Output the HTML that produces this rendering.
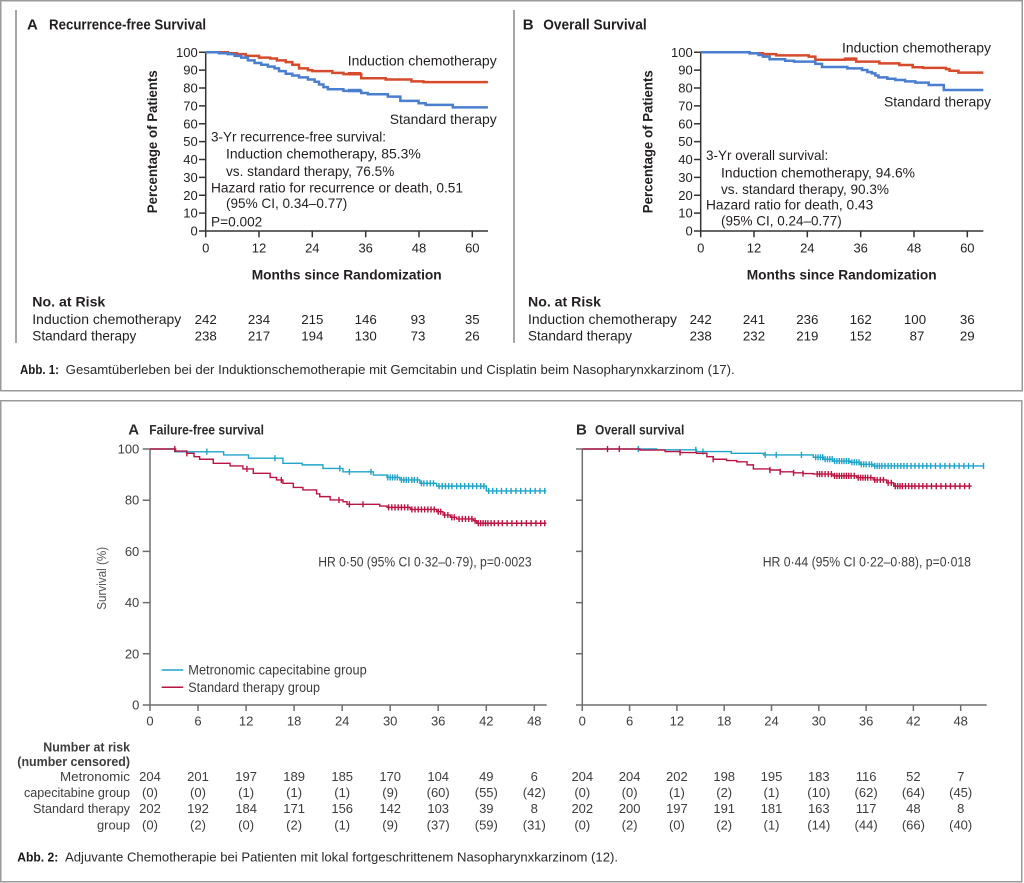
<!DOCTYPE html>
<html><head><meta charset="utf-8"><style>
html,body{margin:0;padding:0;background:#fff;}
svg{display:block;}
text{font-family:"Liberation Sans",sans-serif;}
</style></head><body>
<svg width="1024" height="883" viewBox="0 0 1024 883" xmlns="http://www.w3.org/2000/svg">
<rect x="0" y="0" width="1024" height="883" fill="#fff"/>
<!-- boxes -->
<rect x="0.75" y="0.75" width="1021.5" height="390" fill="none" stroke="#9a9a9a" stroke-width="1.5"/>
<rect x="0.75" y="400.75" width="1021" height="481" fill="none" stroke="#9a9a9a" stroke-width="1.5"/>
<line x1="16" y1="10" x2="16" y2="343" stroke="#8a8a8a" stroke-width="1.5"/>
<line x1="514" y1="10" x2="514" y2="343" stroke="#8a8a8a" stroke-width="1.5"/>

<!-- ===== TOP A ===== -->
<g fill="#231f20">
<text x="27" y="29.3" font-size="15" font-weight="bold">A</text>
<text x="49" y="29.5" font-size="15" font-weight="bold" textLength="157" lengthAdjust="spacingAndGlyphs">Recurrence-free Survival</text>
</g>
<g stroke="#333" stroke-width="1.5" fill="none">
<line x1="205.7" y1="52.3" x2="205.7" y2="231"/>
<line x1="205.7" y1="231" x2="488" y2="231"/>
<path d="M199,231H205.7M199,213.13H205.7M199,195.26H205.7M199,177.39H205.7M199,159.52H205.7M199,141.65H205.7M199,123.78H205.7M199,105.91H205.7M199,88.04H205.7M199,70.17H205.7M199,52.3H205.7"/>
<path d="M205.7,231V237.3M259,231V237.3M312.3,231V237.3M365.7,231V237.3M419,231V237.3M472.3,231V237.3"/>
</g>
<g font-size="13" fill="#231f20" text-anchor="end">
<text x="197.7" y="235.5">0</text><text x="197.7" y="217.6">10</text><text x="197.7" y="199.8">20</text><text x="197.7" y="181.9">30</text><text x="197.7" y="164">40</text><text x="197.7" y="146.2">50</text><text x="197.7" y="128.3">60</text><text x="197.7" y="110.4">70</text><text x="197.7" y="92.5">80</text><text x="197.7" y="74.7">90</text><text x="197.7" y="56.8">100</text>
</g>
<g font-size="13" fill="#231f20" text-anchor="middle">
<text x="205.7" y="252.5">0</text><text x="259" y="252.5">12</text><text x="312.3" y="252.5">24</text><text x="365.7" y="252.5">36</text><text x="419" y="252.5">48</text><text x="472.3" y="252.5">60</text>
</g>
<text x="346.7" y="279.5" font-size="14" font-weight="bold" text-anchor="middle" fill="#231f20" textLength="190" lengthAdjust="spacingAndGlyphs">Months since Randomization</text>
<text transform="translate(157,141.7) rotate(-90)" font-size="14" font-weight="bold" text-anchor="middle" fill="#231f20" textLength="143" lengthAdjust="spacingAndGlyphs">Percentage of Patients</text>
<g transform="translate(205.7,231) scale(4.444,-1.787)" fill="none">
<path vector-effect="non-scaling-stroke" stroke="#d64b2c" stroke-width="2.5" d="M0,100 H5 V99.5 H7 V99 H9 V98 H12 V97 H14.5 V96.5 H16 V95.5 H18 V94.5 H19.5 V93 H21 V91 H23 V90 H24 V89.5 H28.5 V88.5 H31 V87.8 H35 V85.5 H40.5 V84.8 H46.3 V83.7 H49 V83.3 H63.5"/>
<path vector-effect="non-scaling-stroke" stroke="#d64b2c" stroke-width="3.5" d="M32,88 H35"/>
<path vector-effect="non-scaling-stroke" stroke="#4a7fd0" stroke-width="2.5" d="M0,100 H3 V99.5 H5 V99 H6.5 V98 H8 V97 H9.5 V95.5 H11 V94 H12.5 V93 H14 V92 H15.5 V91 H16.5 V89.5 H18 V88 H19.5 V87 H21 V86 H23 V84.8 H24.5 V83.5 H25.5 V82 H26.5 V80.5 H27.5 V79.3 H31 V78.4 H35 V77.2 H36.5 V76.5 H41 V75.2 H43.8 V72.8 H47.9 V71.5 H49.5 V70.6 H55.6 V69.2 H63.5"/>
<path vector-effect="non-scaling-stroke" stroke="#4a7fd0" stroke-width="3.5" d="M32,78.6 H35"/>
</g>
<g font-size="14" fill="#231f20">
<text x="496.7" y="65.7" text-anchor="end" textLength="149" lengthAdjust="spacingAndGlyphs">Induction chemotherapy</text>
<text x="496.7" y="124" text-anchor="end" textLength="107" lengthAdjust="spacingAndGlyphs">Standard therapy</text>
<text x="211" y="141.7" textLength="175" lengthAdjust="spacingAndGlyphs">3-Yr recurrence-free survival:</text>
<text x="226" y="158.7" textLength="194.7" lengthAdjust="spacingAndGlyphs">Induction chemotherapy, 85.3%</text>
<text x="226" y="176" textLength="168.3" lengthAdjust="spacingAndGlyphs">vs. standard therapy, 76.5%</text>
<text x="211" y="192.7" textLength="252" lengthAdjust="spacingAndGlyphs">Hazard ratio for recurrence or death, 0.51</text>
<text x="226" y="207.8" textLength="121.3" lengthAdjust="spacingAndGlyphs">(95% CI, 0.34–0.77)</text>
<text x="211" y="226.7" textLength="51.3" lengthAdjust="spacingAndGlyphs">P=0.002</text>
</g>

<!-- ===== TOP B ===== -->
<g fill="#231f20">
<text x="522.7" y="29.3" font-size="15" font-weight="bold">B</text>
<text x="543.3" y="29.5" font-size="15" font-weight="bold" textLength="103.4" lengthAdjust="spacingAndGlyphs">Overall Survival</text>
</g>
<g stroke="#333" stroke-width="1.5" fill="none">
<line x1="700.7" y1="52.3" x2="700.7" y2="231"/>
<line x1="700.7" y1="231" x2="983.3" y2="231"/>
<path d="M694,231H700.7M694,213.13H700.7M694,195.26H700.7M694,177.39H700.7M694,159.52H700.7M694,141.65H700.7M694,123.78H700.7M694,105.91H700.7M694,88.04H700.7M694,70.17H700.7M694,52.3H700.7"/>
<path d="M700.7,231V237.3M754,231V237.3M807.3,231V237.3M860.7,231V237.3M914,231V237.3M967.3,231V237.3"/>
</g>
<g font-size="13" fill="#231f20" text-anchor="end">
<text x="692.7" y="235.5">0</text><text x="692.7" y="217.6">10</text><text x="692.7" y="199.8">20</text><text x="692.7" y="181.9">30</text><text x="692.7" y="164">40</text><text x="692.7" y="146.2">50</text><text x="692.7" y="128.3">60</text><text x="692.7" y="110.4">70</text><text x="692.7" y="92.5">80</text><text x="692.7" y="74.7">90</text><text x="692.7" y="56.8">100</text>
</g>
<g font-size="13" fill="#231f20" text-anchor="middle">
<text x="700.7" y="252.5">0</text><text x="754" y="252.5">12</text><text x="807.3" y="252.5">24</text><text x="860.7" y="252.5">36</text><text x="914" y="252.5">48</text><text x="967.3" y="252.5">60</text>
</g>
<text x="841.7" y="279.5" font-size="14" font-weight="bold" text-anchor="middle" fill="#231f20" textLength="190" lengthAdjust="spacingAndGlyphs">Months since Randomization</text>
<text transform="translate(652.3,141.7) rotate(-90)" font-size="14" font-weight="bold" text-anchor="middle" fill="#231f20" textLength="143" lengthAdjust="spacingAndGlyphs">Percentage of Patients</text>
<g transform="translate(700.7,231) scale(4.444,-1.787)" fill="none">
<path vector-effect="non-scaling-stroke" stroke="#d64b2c" stroke-width="2.5" d="M0,100 H11 V99.5 H14 V99 H17 V98.3 H24.3 V97.6 H25.8 V95.8 H32.5 V96.4 H35 V94.8 H40.2 V93.8 H44.7 V92.9 H47.7 V91.6 H50 V91.3 H55.2 V90.6 H56 V89.7 H58 V88.6 H63.6"/>
<path vector-effect="non-scaling-stroke" stroke="#d64b2c" stroke-width="3.5" d="M32.5,96.2 H35"/>
<path vector-effect="non-scaling-stroke" stroke="#4a7fd0" stroke-width="2.5" d="M0,100 H11 V99.4 H13 V98.5 H14 V97.6 H15.5 V96.1 H19 V95.3 H21 V94.8 H25.8 V93.5 H27.3 V91.8 H33 V91 H36.3 V90.1 H37.5 V89 H38.5 V88.2 H39.3 V87 H40 V86 H42 V85.2 H43.8 V84.5 H46 V83.7 H48.3 V83 H51.3 V81.7 H54.7 V78.9 H63.6"/>
</g>
<g font-size="14" fill="#231f20">
<text x="991" y="52.7" text-anchor="end" textLength="149" lengthAdjust="spacingAndGlyphs">Induction chemotherapy</text>
<text x="991" y="106.7" text-anchor="end" textLength="107" lengthAdjust="spacingAndGlyphs">Standard therapy</text>
<text x="706" y="160" textLength="122.3" lengthAdjust="spacingAndGlyphs">3-Yr overall survival:</text>
<text x="721" y="177.7" textLength="194" lengthAdjust="spacingAndGlyphs">Induction chemotherapy, 94.6%</text>
<text x="721" y="194" textLength="168" lengthAdjust="spacingAndGlyphs">vs. standard therapy, 90.3%</text>
<text x="706" y="209.7" textLength="167.3" lengthAdjust="spacingAndGlyphs">Hazard ratio for death, 0.43</text>
<text x="721" y="225.5" textLength="120.7" lengthAdjust="spacingAndGlyphs">(95% CI, 0.24–0.77)</text>
</g>

<!-- top risk tables -->
<g fill="#231f20" font-size="14">
<text x="32.3" y="306.7" font-weight="bold" textLength="73" lengthAdjust="spacingAndGlyphs">No. at Risk</text>
<text x="32.3" y="324" textLength="149" lengthAdjust="spacingAndGlyphs">Induction chemotherapy</text>
<text x="32.3" y="340.7" textLength="104" lengthAdjust="spacingAndGlyphs">Standard therapy</text>
<text x="528" y="306.7" font-weight="bold" textLength="73" lengthAdjust="spacingAndGlyphs">No. at Risk</text>
<text x="528" y="324" textLength="149" lengthAdjust="spacingAndGlyphs">Induction chemotherapy</text>
<text x="528" y="340.7" textLength="104" lengthAdjust="spacingAndGlyphs">Standard therapy</text>
</g>
<g fill="#231f20" font-size="13.3" text-anchor="middle">
<text x="205.7" y="324">242</text><text x="259" y="324">234</text><text x="312.3" y="324">215</text><text x="365.7" y="324">146</text><text x="418" y="324">93</text><text x="472.3" y="324">35</text>
<text x="205.7" y="340.7">238</text><text x="259" y="340.7">217</text><text x="312.3" y="340.7">194</text><text x="365.7" y="340.7">130</text><text x="418" y="340.7">73</text><text x="472.3" y="340.7">26</text>
<text x="700.7" y="324">242</text><text x="754" y="324">241</text><text x="807.3" y="324">236</text><text x="860.7" y="324">162</text><text x="915" y="324">100</text><text x="967.3" y="324">36</text>
<text x="700.7" y="340.7">238</text><text x="754" y="340.7">232</text><text x="807.3" y="340.7">219</text><text x="860.7" y="340.7">152</text><text x="917" y="340.7">87</text><text x="967.3" y="340.7">29</text>
</g>

<!-- caption 1 -->
<text x="20" y="374" font-size="13" font-weight="bold" fill="#1a1a1a" textLength="39" lengthAdjust="spacingAndGlyphs">Abb. 1:</text>
<text x="65.7" y="374" font-size="13" fill="#2a2a2a" textLength="669" lengthAdjust="spacingAndGlyphs">Gesamtüberleben bei der Induktionschemotherapie mit Gemcitabin und Cisplatin beim Nasopharynxkarzinom (17).</text>

<!-- ===== BOTTOM A ===== -->
<g fill="#2b2b2b">
<text x="128.3" y="434.3" font-size="15" font-weight="bold">A</text>
<text x="149.3" y="434.3" font-size="14" font-weight="bold" textLength="114.7" lengthAdjust="spacingAndGlyphs">Failure-free survival</text>
</g>
<g stroke="#6e6e6e" stroke-width="1.5" fill="none">
<line x1="150" y1="449" x2="150" y2="705"/>
<line x1="142.7" y1="705" x2="546.7" y2="705"/>
<path d="M142.7,449H150M142.7,500.2H150M142.7,551.4H150M142.7,602.6H150M142.7,653.8H150"/>
<path d="M150,705V711M198,705V711M246.1,705V711M294.1,705V711M342.2,705V711M390.2,705V711M438.2,705V711M486.3,705V711M534.3,705V711"/>
</g>
<g font-size="13" fill="#3d3d3d" text-anchor="end">
<text x="139.3" y="453.5">100</text><text x="139.3" y="504.7">80</text><text x="139.3" y="555.9">60</text><text x="139.3" y="607.1">40</text><text x="139.3" y="658.3">20</text><text x="139.3" y="709.5">0</text>
</g>
<g font-size="13" fill="#3d3d3d" text-anchor="middle">
<text x="150" y="725.5">0</text><text x="198" y="725.5">6</text><text x="246.1" y="725.5">12</text><text x="294.1" y="725.5">18</text><text x="342.2" y="725.5">24</text><text x="390.2" y="725.5">30</text><text x="438.2" y="725.5">36</text><text x="486.3" y="725.5">42</text><text x="534.3" y="725.5">48</text>
</g>
<text transform="translate(106,578.3) rotate(-90)" font-size="13" fill="#555" text-anchor="middle" textLength="63" lengthAdjust="spacingAndGlyphs">Survival (%)</text>
<g transform="translate(150,705) scale(8.007,-2.56)" fill="none">
<path vector-effect="non-scaling-stroke" stroke="#1ea5c9" stroke-width="1.4" d="M0,100 H3.1 V98.9 H9.2 V97.7 H12.3 V96.4 H16.6 V94.4 H19 V93.8 H21.6 V92.4 H24.1 V91.1 H27.9 V89.8 H29.6 V88.9 H31.2 V87.9 H33.7 V86.6 H35.8 V85.5 H42 V83.6 H49.5"/>
<path vector-effect="non-scaling-stroke" stroke="#1ea5c9" stroke-width="1.4" d="M7.1,97.8v2.4M15.6,95.2v2.4M23.7,91.2v2.4M24.9,89.9v2.4M27.6,89.9v2.4M29.7,87.7v2.4M30,87.7v2.4M30.3,87.7v2.4M30.6,87.7v2.4M30.9,87.7v2.4M31.4,86.7v2.4M31.7,86.7v2.4M32,86.7v2.4M32.3,86.7v2.4M32.7,86.7v2.4M33,86.7v2.4M33.4,86.7v2.4M33.9,85.4v2.4M34.2,85.4v2.4M34.6,85.4v2.4M35,85.4v2.4M35.4,85.4v2.4M36.1,84.3v2.4M36.5,84.3v2.4M36.9,84.3v2.4M37.3,84.3v2.4M37.7,84.3v2.4M38.3,84.3v2.4M38.8,84.3v2.4M39.3,84.3v2.4M39.8,84.3v2.4M40.3,84.3v2.4M40.8,84.3v2.4M41.3,84.3v2.4M41.7,84.3v2.4M42.3,82.4v2.4M42.8,82.4v2.4M43.3,82.4v2.4M43.9,82.4v2.4M44.5,82.4v2.4M45.1,82.4v2.4M45.7,82.4v2.4M46.3,82.4v2.4M46.9,82.4v2.4M47.5,82.4v2.4M48.1,82.4v2.4M48.7,82.4v2.4M49.3,82.4v2.4"/>
<path vector-effect="non-scaling-stroke" stroke="#bb1443" stroke-width="1.4" d="M0,100 H3.2 V99.2 H4.6 V98.3 H5.5 V97 H6.2 V96 H7.9 V94.4 H10 V93.4 H11.6 V92.2 H12.9 V90.5 H15 V88.9 H15.8 V87.9 H16.6 V86.6 H17.9 V85 H19.1 V84 H20.8 V82.5 H21.2 V81.4 H22.5 V80.1 H24.1 V79.4 H24.6 V78.4 H28.7 V77.7 H29.6 V77.2 H32.5 V76.4 H35.8 V75.5 H36.6 V74.2 H37.5 V73.3 H38.3 V72.7 H40.4 V72 H40.8 V71 H49.5"/>
<path vector-effect="non-scaling-stroke" stroke="#bb1443" stroke-width="1.4" d="M3.1,98.8v2.4M4.6,97.1v2.4M12.1,91v2.4M16.4,86.7v2.4M23.6,78.9v2.4M24.9,77.2v2.4M26.6,77.2v2.4M29.8,76v2.4M30.2,76v2.4M30.6,76v2.4M31,76v2.4M31.4,76v2.4M31.8,76v2.4M32.2,76v2.4M32.7,75.2v2.4M33.1,75.2v2.4M33.5,75.2v2.4M33.9,75.2v2.4M34.3,75.2v2.4M34.7,75.2v2.4M35.1,75.2v2.4M35.5,75.2v2.4M36,74.3v2.4M36.3,74.3v2.4M36.8,73v2.4M37.2,73v2.4M37.7,72.1v2.4M38,72.1v2.4M38.6,71.5v2.4M39,71.5v2.4M39.4,71.5v2.4M39.8,71.5v2.4M40.2,71.5v2.4M40.6,70.8v2.4M41,69.8v2.4M41.3,69.8v2.4M41.6,69.8v2.4M41.9,69.8v2.4M42.2,69.8v2.4M42.6,69.8v2.4M43,69.8v2.4M43.5,69.8v2.4M44,69.8v2.4M44.6,69.8v2.4M45.2,69.8v2.4M45.8,69.8v2.4M46.4,69.8v2.4M47,69.8v2.4M47.6,69.8v2.4M48.2,69.8v2.4M48.8,69.8v2.4M49.3,69.8v2.4"/>
</g>
<text x="318.3" y="566.7" font-size="13.5" fill="#3d3d3d" textLength="213.3" lengthAdjust="spacingAndGlyphs">HR 0·50 (95% CI 0·32–0·79), p=0·0023</text>
<line x1="161.7" y1="670" x2="183.3" y2="670" stroke="#1ea5c9" stroke-width="1.5"/>
<line x1="161.7" y1="687.3" x2="183.3" y2="687.3" stroke="#bb1443" stroke-width="1.5"/>
<text x="188.3" y="674.5" font-size="13.5" fill="#3d3d3d" textLength="178.4" lengthAdjust="spacingAndGlyphs">Metronomic capecitabine group</text>
<text x="188.3" y="691.8" font-size="13.5" fill="#3d3d3d" textLength="131.7" lengthAdjust="spacingAndGlyphs">Standard therapy group</text>

<!-- ===== BOTTOM B ===== -->
<g fill="#2b2b2b">
<text x="576" y="434.3" font-size="15" font-weight="bold">B</text>
<text x="595" y="434.3" font-size="14" font-weight="bold" textLength="89.3" lengthAdjust="spacingAndGlyphs">Overall survival</text>
</g>
<g stroke="#6e6e6e" stroke-width="1.5" fill="none">
<line x1="582.3" y1="449" x2="582.3" y2="705"/>
<line x1="576" y1="705" x2="986.7" y2="705"/>
<path d="M576,449H582.3M576,500.2H582.3M576,551.4H582.3M576,602.6H582.3M576,653.8H582.3"/>
<path d="M582.3,705V711M629.6,705V711M676.9,705V711M724.2,705V711M771.5,705V711M818.8,705V711M866.1,705V711M913.4,705V711M960.7,705V711"/>
</g>
<g font-size="13" fill="#3d3d3d" text-anchor="middle">
<text x="582.3" y="725.5">0</text><text x="629.6" y="725.5">6</text><text x="676.9" y="725.5">12</text><text x="724.2" y="725.5">18</text><text x="771.5" y="725.5">24</text><text x="818.8" y="725.5">30</text><text x="866.1" y="725.5">36</text><text x="913.4" y="725.5">42</text><text x="960.7" y="725.5">48</text>
</g>
<g transform="translate(582.3,705) scale(7.883,-2.56)" fill="none">
<path vector-effect="non-scaling-stroke" stroke="#1ea5c9" stroke-width="1.4" d="M0,100 H9.4 V99.7 H14.5 V99 H18.9 V98.3 H23 V97.7 H29.3 V96.75 H30.6 V96 H31.8 V95.3 H34 V94.8 H35.2 V94 H36.9 V93.4 H50.9"/>
<path vector-effect="non-scaling-stroke" stroke="#1ea5c9" stroke-width="1.4" d="M7.1,98.8v2.4M14.4,98.5v2.4M15.3,97.8v2.4M23.2,96.5v2.4M24.6,96.5v2.4M27.8,96.5v2.4M29.6,95.55v2.4M29.9,95.55v2.4M30.2,95.55v2.4M30.5,95.55v2.4M30.8,94.8v2.4M31.1,94.8v2.4M31.4,94.8v2.4M31.7,94.8v2.4M32,94.1v2.4M32.3,94.1v2.4M32.6,94.1v2.4M32.9,94.1v2.4M33.2,94.1v2.4M33.5,94.1v2.4M33.8,94.1v2.4M34.2,93.6v2.4M34.5,93.6v2.4M34.8,93.6v2.4M35.1,93.6v2.4M35.4,92.8v2.4M35.7,92.8v2.4M36,92.8v2.4M36.4,92.8v2.4M36.7,92.8v2.4M37.1,92.2v2.4M37.4,92.2v2.4M37.7,92.2v2.4M38,92.2v2.4M38.4,92.2v2.4M38.8,92.2v2.4M39.2,92.2v2.4M39.6,92.2v2.4M40,92.2v2.4M40.4,92.2v2.4M40.8,92.2v2.4M41.2,92.2v2.4M41.7,92.2v2.4M42.2,92.2v2.4M42.7,92.2v2.4M43.2,92.2v2.4M43.7,92.2v2.4M44.2,92.2v2.4M44.8,92.2v2.4M45.4,92.2v2.4M46,92.2v2.4M46.6,92.2v2.4M47.2,92.2v2.4M47.8,92.2v2.4M48.4,92.2v2.4M49,92.2v2.4M49.6,92.2v2.4M50.9,92.2v2.4"/>
<path vector-effect="non-scaling-stroke" stroke="#bb1443" stroke-width="1.4" d="M0,100 H7.3 V99.6 H10.5 V99 H12.4 V98.6 H14.5 V98.3 H15.8 V97 H16.6 V96 H18.3 V95.5 H19.6 V95 H20.9 V93.8 H21.7 V92.2 H23.8 V91.8 H25.1 V91.1 H26.8 V90.7 H28 V90.4 H29.3 V90.2 H31.8 V89.5 H34.8 V88.8 H36.9 V87.9 H38.6 V86.8 H39.5 V85.5 H49.4"/>
<path vector-effect="non-scaling-stroke" stroke="#bb1443" stroke-width="1.4" d="M3.2,98.8v2.4M4.7,98.8v2.4M12.4,97.4v2.4M16.6,94.8v2.4M23.8,90.6v2.4M25.1,89.9v2.4M26.8,89.5v2.4M28,89.2v2.4M29.8,89v2.4M30.1,89v2.4M30.4,89v2.4M30.8,89v2.4M31.2,89v2.4M31.6,89v2.4M32,88.3v2.4M32.3,88.3v2.4M32.6,88.3v2.4M32.9,88.3v2.4M33.2,88.3v2.4M33.5,88.3v2.4M33.8,88.3v2.4M34.1,88.3v2.4M34.5,88.3v2.4M35,87.6v2.4M35.3,87.6v2.4M35.6,87.6v2.4M35.9,87.6v2.4M36.2,87.6v2.4M36.6,87.6v2.4M37.1,86.7v2.4M37.4,86.7v2.4M37.8,86.7v2.4M38.2,86.7v2.4M38.8,85.6v2.4M39.2,85.6v2.4M39.7,84.3v2.4M40,84.3v2.4M40.3,84.3v2.4M40.6,84.3v2.4M41,84.3v2.4M41.4,84.3v2.4M41.8,84.3v2.4M42.2,84.3v2.4M42.7,84.3v2.4M43.2,84.3v2.4M43.7,84.3v2.4M44.3,84.3v2.4M44.9,84.3v2.4M45.5,84.3v2.4M46.1,84.3v2.4M46.7,84.3v2.4M47.3,84.3v2.4M47.9,84.3v2.4M48.5,84.3v2.4M49.1,84.3v2.4"/>
</g>
<text x="762.7" y="566.7" font-size="13.5" fill="#3d3d3d" textLength="208.3" lengthAdjust="spacingAndGlyphs">HR 0·44 (95% CI 0·22–0·88), p=0·018</text>

<!-- bottom risk table -->
<g fill="#3d3d3d" font-size="13" text-anchor="end">
<text x="130" y="751.7" font-weight="bold" textLength="86.7" lengthAdjust="spacingAndGlyphs">Number at risk</text>
<text x="130" y="766" font-weight="bold" textLength="112.7" lengthAdjust="spacingAndGlyphs">(number censored)</text>
<text x="130" y="781" textLength="70" lengthAdjust="spacingAndGlyphs">Metronomic</text>
<text x="130" y="797" textLength="106" lengthAdjust="spacingAndGlyphs">capecitabine group</text>
<text x="130" y="813" textLength="97" lengthAdjust="spacingAndGlyphs">Standard therapy</text>
<text x="130" y="829.5" textLength="33" lengthAdjust="spacingAndGlyphs">group</text>
</g>
<g fill="#3d3d3d" font-size="13" text-anchor="middle">
<text x="150" y="781">204</text><text x="198" y="781">201</text><text x="246.1" y="781">197</text><text x="294.1" y="781">189</text><text x="342.2" y="781">185</text><text x="390.2" y="781">170</text><text x="438.2" y="781">104</text><text x="486.3" y="781">49</text><text x="534.3" y="781">6</text>
<text x="150" y="797">(0)</text><text x="198" y="797">(0)</text><text x="246.1" y="797">(1)</text><text x="294.1" y="797">(1)</text><text x="342.2" y="797">(1)</text><text x="390.2" y="797">(9)</text><text x="438.2" y="797">(60)</text><text x="486.3" y="797">(55)</text><text x="534.3" y="797">(42)</text>
<text x="150" y="813">202</text><text x="198" y="813">192</text><text x="246.1" y="813">184</text><text x="294.1" y="813">171</text><text x="342.2" y="813">156</text><text x="390.2" y="813">142</text><text x="438.2" y="813">103</text><text x="486.3" y="813">39</text><text x="534.3" y="813">8</text>
<text x="150" y="829.5">(0)</text><text x="198" y="829.5">(2)</text><text x="246.1" y="829.5">(0)</text><text x="294.1" y="829.5">(2)</text><text x="342.2" y="829.5">(1)</text><text x="390.2" y="829.5">(9)</text><text x="438.2" y="829.5">(37)</text><text x="486.3" y="829.5">(59)</text><text x="534.3" y="829.5">(31)</text>
<text x="582.3" y="781">204</text><text x="629.6" y="781">204</text><text x="676.9" y="781">202</text><text x="724.2" y="781">198</text><text x="771.5" y="781">195</text><text x="818.8" y="781">183</text><text x="866.1" y="781">116</text><text x="913.4" y="781">52</text><text x="960.7" y="781">7</text>
<text x="582.3" y="797">(0)</text><text x="629.6" y="797">(0)</text><text x="676.9" y="797">(1)</text><text x="724.2" y="797">(2)</text><text x="771.5" y="797">(1)</text><text x="818.8" y="797">(10)</text><text x="866.1" y="797">(62)</text><text x="913.4" y="797">(64)</text><text x="960.7" y="797">(45)</text>
<text x="582.3" y="813">202</text><text x="629.6" y="813">200</text><text x="676.9" y="813">197</text><text x="724.2" y="813">191</text><text x="771.5" y="813">181</text><text x="818.8" y="813">163</text><text x="866.1" y="813">117</text><text x="913.4" y="813">48</text><text x="960.7" y="813">8</text>
<text x="582.3" y="829.5">(0)</text><text x="629.6" y="829.5">(2)</text><text x="676.9" y="829.5">(0)</text><text x="724.2" y="829.5">(2)</text><text x="771.5" y="829.5">(1)</text><text x="818.8" y="829.5">(14)</text><text x="866.1" y="829.5">(44)</text><text x="913.4" y="829.5">(66)</text><text x="960.7" y="829.5">(40)</text>
</g>

<!-- caption 2 -->
<text x="17.3" y="861.7" font-size="13" font-weight="bold" fill="#1a1a1a" textLength="41" lengthAdjust="spacingAndGlyphs">Abb. 2:</text>
<text x="65" y="861.7" font-size="13" fill="#2a2a2a" textLength="553" lengthAdjust="spacingAndGlyphs">Adjuvante Chemotherapie bei Patienten mit lokal fortgeschrittenem Nasopharynxkarzinom (12).</text>
</svg>
</body></html>
